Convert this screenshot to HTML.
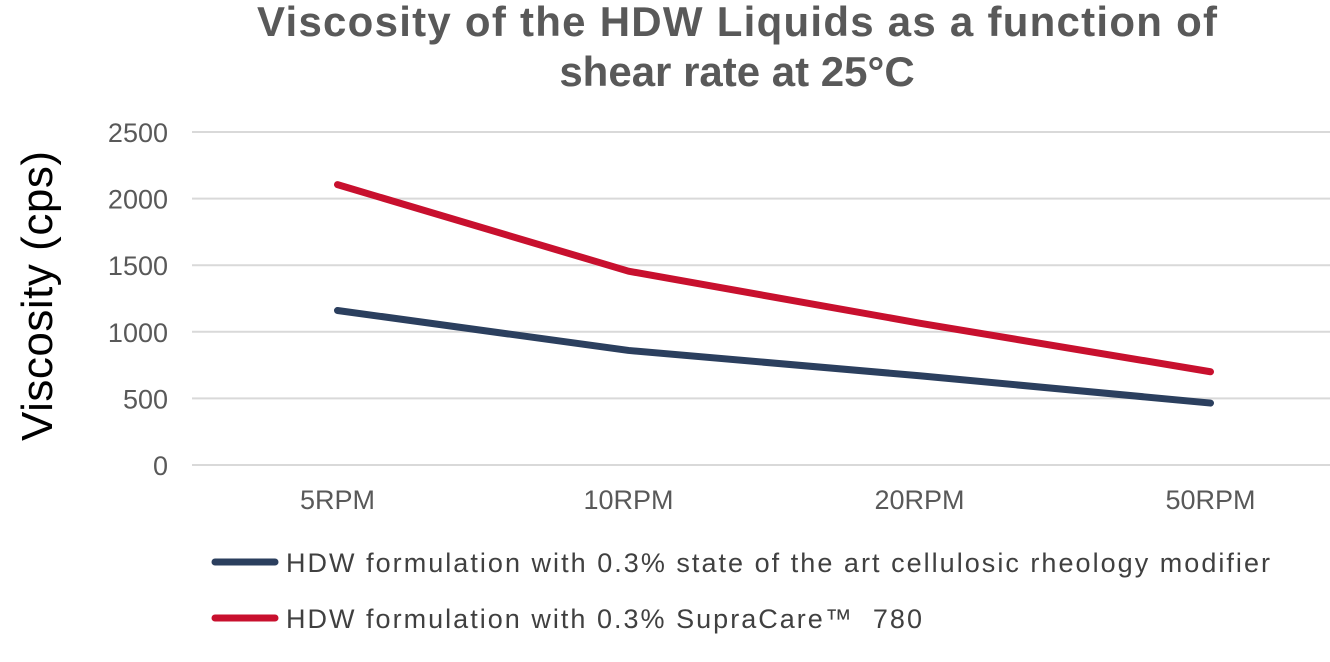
<!DOCTYPE html>
<html><head><meta charset="utf-8"><style>
body{margin:0;background:#fff;width:1330px;height:657px;overflow:hidden;font-family:"Liberation Sans",Arial,sans-serif}
</style></head><body>
<svg id="chart" width="1330" height="657" xmlns="http://www.w3.org/2000/svg">
<text x="737" y="36" text-anchor="middle" font-size="42" font-weight="bold" fill="#595959" textLength="960">Viscosity of the HDW Liquids as a function of</text>
<text x="737" y="86" text-anchor="middle" font-size="42" font-weight="bold" fill="#595959">shear rate at 25°C</text>
<text transform="translate(52,296) rotate(-90)" text-anchor="middle" font-size="44" fill="#000" textLength="290">Viscosity (cps)</text>
<g id="grid"></g><g id="ylabels"></g><g id="xlabels"></g><g id="lines"></g>
<g>
<line x1="215" y1="562" x2="275" y2="562" stroke="#2B3F5E" stroke-width="7" stroke-linecap="round"/>
<text x="286" y="572" font-size="27" fill="#404040" textLength="984">HDW formulation with 0.3% state of the art cellulosic rheology modifier</text>
<line x1="215" y1="618" x2="275" y2="618" stroke="#C8102E" stroke-width="7" stroke-linecap="round"/>
<text x="286" y="628" font-size="27" fill="#404040" textLength="636" xml:space="preserve">HDW formulation with 0.3% SupraCare™  780</text>
</g>
</svg>
<script>
const categories=["5RPM","10RPM","20RPM","50RPM"];
const cellulosic=[1160,860,670,465];
const supracare=[2105,1455,1065,700];
const yTicks=[0,500,1000,1500,2000,2500];
const NS="http://www.w3.org/2000/svg";
const x0=192,cw=291,yBase=465,yTop=132,yMax=2500;
function xs(i){return x0+cw*(i+0.5);}
function ys(v){return yBase-(v/yMax)*(yBase-yTop);}
function mk(t,a,p){const e=document.createElementNS(NS,t);for(const k in a)e.setAttribute(k,a[k]);document.getElementById(p).appendChild(e);return e;}
yTicks.forEach(v=>{
 const g=mk('line',{x1:x0,x2:1330,y1:ys(v),y2:ys(v),stroke:'#d9d9d9','stroke-width':2},'grid');
 
 
 const t=mk('text',{x:168,y:ys(v)+10,'text-anchor':'end','font-size':27,fill:'#595959'},'ylabels');
 t.textContent=v;
 
 
});
categories.forEach((c,i)=>{
 const t=mk('text',{x:xs(i),y:509,'text-anchor':'middle','font-size':27,fill:'#595959'},'xlabels');
 t.textContent=c;
 
 
});
[[cellulosic,'#2B3F5E','series-cellulosic'],[supracare,'#C8102E','series-supracare']].forEach(([d,col,n])=>{
 const p=mk('polyline',{points:d.map((v,i)=>xs(i)+','+ys(v)).join(' '),fill:'none',stroke:col,'stroke-width':7,'stroke-linecap':'round','stroke-linejoin':'round'},'lines');
 
 
});
</script>
</body></html>
